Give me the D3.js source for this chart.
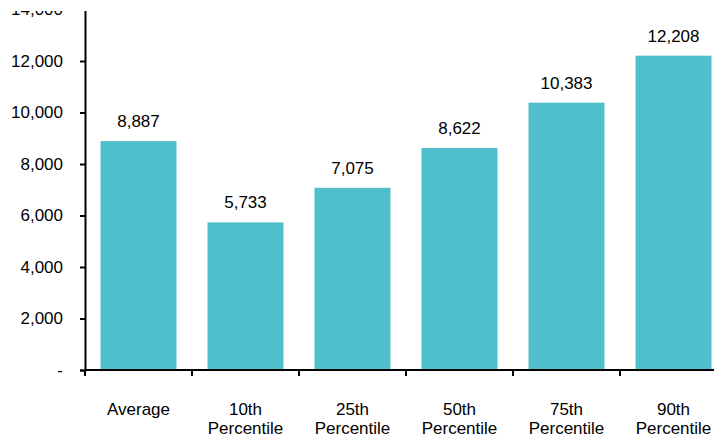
<!DOCTYPE html>
<html><head><meta charset="utf-8">
<script src="https://cdn.jsdelivr.net/npm/d3@7"></script>
<style>body{margin:0;background:#fff}svg{display:block}text{font-family:"Liberation Sans",Arial,sans-serif;fill:#000}</style>
</head><body>
<svg id="c" width="714" height="437"></svg>
<script>
const categories = ["Average", "10th\nPercentile", "25th\nPercentile", "50th\nPercentile", "75th\nPercentile", "90th\nPercentile"];
const values = [8887, 5733, 7075, 8622, 10383, 12208];
const yTicks = [0, 2000, 4000, 6000, 8000, 10000, 12000, 14000];

const svg = d3.select("#c");
const x = d3.scaleBand().domain(categories).range([85, 727]).paddingInner(0.29).paddingOuter(0.145);
const y = d3.scaleLinear().domain([0, 14000]).range([370, 9.5]);
const fmt = v => v === 0 ? "-" : d3.format(",")(v);
const FS = "17px";

// bars
svg.selectAll("rect.bar").data(values).join("rect").attr("class","bar")
  .attr("x", (d,i) => x(categories[i])).attr("width", x.bandwidth())
  .attr("y", d => y(d)).attr("height", d => y(0) - y(d)).attr("fill", "#4FBFCC");

// value labels
svg.selectAll("text.val").data(values).join("text").attr("class","val")
  .attr("x", (d,i) => x(categories[i]) + x.bandwidth()/2).attr("y", d => y(d) - 14)
  .attr("text-anchor","middle").style("font-size",FS).text(d => d3.format(",")(d));

// y axis
const ya = svg.append("g").attr("transform","translate(85,0)")
  .call(d3.axisLeft(y).tickValues(yTicks).tickFormat(fmt).tickSize(5).tickPadding(17));
ya.select(".domain").attr("stroke","#000").attr("stroke-width",2);
ya.selectAll(".tick line").attr("stroke","#000").attr("stroke-width",2);
ya.selectAll(".tick text").style("font-size",FS).style("font-family","Liberation Sans, Arial, sans-serif").attr("fill","#000");

// x axis
const step = x.step();
const bounds = d3.range(categories.length + 1).map(i => 85 + i * step);
svg.append("line").attr("x1",85).attr("x2",727).attr("y1",y(0)).attr("y2",y(0)).attr("stroke","#000").attr("stroke-width",2);
svg.selectAll("line.xt").data(bounds).join("line").attr("class","xt")
  .attr("x1", d=>d).attr("x2", d=>d).attr("y1", y(0)).attr("y2", y(0)+6).attr("stroke","#000").attr("stroke-width",2);

// category labels
svg.selectAll("text.cat").data(categories).join("text").attr("class","cat")
  .attr("text-anchor","middle").style("font-size",FS)
  .attr("transform", d => `translate(${x(d)+x.bandwidth()/2},415)`)
  .each(function(d){
    const lines = d.split("\n");
    d3.select(this).selectAll("tspan").data(lines).join("tspan")
      .attr("x",0).attr("dy",(l,i)=> i===0 ? 0 : 19).text(l => l);
  });

// top clip (reference image is cropped at the top)
svg.append("rect").attr("x",0).attr("y",0).attr("width",714).attr("height",11).attr("fill","#fff");
</script>
</body></html>
